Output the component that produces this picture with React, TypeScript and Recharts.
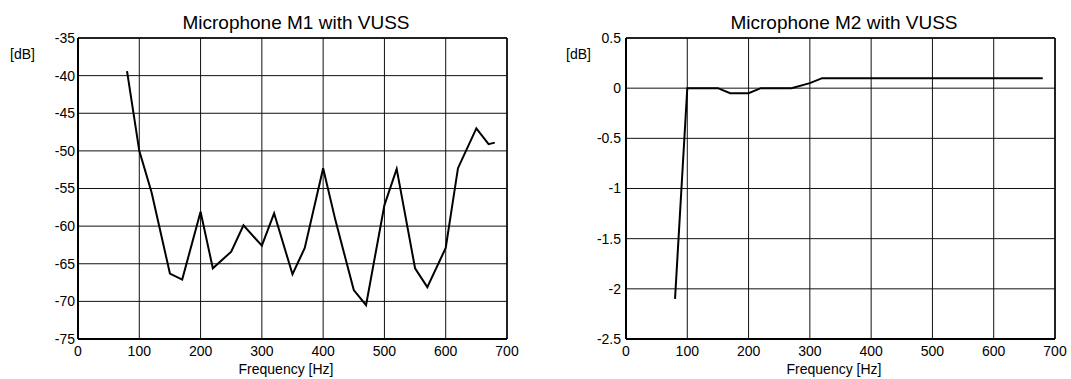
import { LineChart, Line, XAxis, YAxis, CartesianGrid, ReferenceLine } from 'recharts';

// measurement frequencies [Hz]
const freqs = [80, 100, 120, 150, 170, 200, 220, 250, 270, 300, 320, 350, 370, 400, 420, 450, 470, 500, 520, 550, 570, 600, 620, 650, 670, 680];

// M1 level [dB]
const m1Levels = [-39.4, -50, -55.5, -66.3, -67.1, -58.1, -65.6, -63.4, -59.9, -62.6, -58.3, -66.4, -62.9, -52.3, -59.2, -68.5, -70.5, -57.2, -52.4, -65.6, -68.1, -62.9, -52.3, -47.0, -49.1, -48.9];

// M2 level [dB]
const m2Levels = [-2.1, 0, 0, 0, -0.05, -0.05, 0, 0, 0, 0.05, 0.1, 0.1, 0.1, 0.1, 0.1, 0.1, 0.1, 0.1, 0.1, 0.1, 0.1, 0.1, 0.1, 0.1, 0.1, 0.1];

const xTicks = [0, 100, 200, 300, 400, 500, 600, 700];
const m1Ticks = [-75, -70, -65, -60, -55, -50, -45, -40, -35];
const m2Ticks = [-2.5, -2, -1.5, -1, -0.5, 0, 0.5];

const FONT = '"Liberation Sans", Arial, sans-serif';
const tickStyle = { fill: '#000', fontSize: 14, fontFamily: FONT };

interface PanelProps {
  data: { f: number; v: number }[];
  yTicks: number[];
  width: number;
  yWidth: number;
  right: number;
  yMargin: number;
}

function Panel({ data, yTicks, width, yWidth, right, yMargin }: PanelProps) {
  const yMin = yTicks[0];
  const yMax = yTicks[yTicks.length - 1];
  return (
    <LineChart width={width} height={379} data={data} margin={{ top: 38, right, bottom: 0, left: 0 }}>
      <CartesianGrid stroke="#111" strokeWidth={1} />
      <XAxis
        dataKey="f"
        type="number"
        domain={[0, 700]}
        ticks={xTicks}
        height={40}
        tickSize={0}
        tickMargin={7}
        axisLine={{ stroke: '#000', strokeWidth: 2 }}
        tick={tickStyle}
      />
      <YAxis
        type="number"
        domain={[yMin, yMax]}
        ticks={yTicks}
        width={yWidth}
        tickSize={0}
        tickMargin={yMargin}
        interval={0}
        axisLine={{ stroke: '#000', strokeWidth: 2 }}
        tick={tickStyle}
      />
      <ReferenceLine x={700} stroke="#000" strokeWidth={1.5} />
      <ReferenceLine y={yMax} stroke="#000" strokeWidth={1.5} />
      <Line type="linear" dataKey="v" stroke="#000" strokeWidth={2} dot={false} isAnimationActive={false} />
    </LineChart>
  );
}

export default function App() {
  const m1Data = freqs.map((f, i) => ({ f, v: m1Levels[i] }));
  const m2Data = freqs.map((f, i) => ({ f, v: m2Levels[i] }));
  return (
    <div style={{ position: 'absolute', left: 0, top: 0, width: 1071, height: 379, background: '#fff' }}>
      <div style={{ position: 'absolute', left: 0, top: 0 }}>
        <Panel data={m1Data} yTicks={m1Ticks} width={535} yWidth={78} right={28} yMargin={3} />
      </div>
      <div style={{ position: 'absolute', left: 535, top: 0 }}>
        <Panel data={m2Data} yTicks={m2Ticks} width={536} yWidth={91} right={16} yMargin={5} />
      </div>
      <svg width={1071} height={379} style={{ position: 'absolute', left: 0, top: 0, pointerEvents: 'none' }}>
        <g fontFamily={FONT} fill="#000">
          <text x={296} y={28.5} fontSize={19} textAnchor="middle">Microphone M1 with VUSS</text>
          <text x={844} y={28.5} fontSize={19} textAnchor="middle">Microphone M2 with VUSS</text>
          <text x={10} y={58.5} fontSize={14}>[dB]</text>
          <text x={566} y={58.5} fontSize={14}>[dB]</text>
          <text x={286} y={374} fontSize={14} textAnchor="middle">Frequency [Hz]</text>
          <text x={834} y={374} fontSize={14} textAnchor="middle">Frequency [Hz]</text>
        </g>
      </svg>
    </div>
  );
}
